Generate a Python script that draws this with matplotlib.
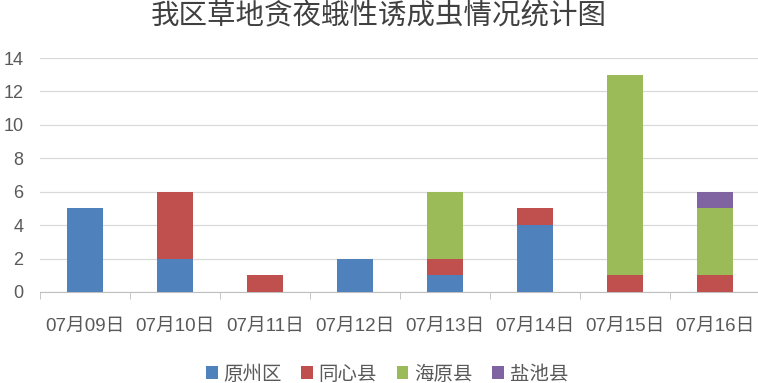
import numpy as np
import matplotlib
matplotlib.use("Agg")
import matplotlib.pyplot as plt

plt.rcParams['font.family'] = ['Noto Sans CJK SC', 'DejaVu Sans']

dates = ['07月09日', '07月10日', '07月11日', '07月12日',
         '07月13日', '07月14日', '07月15日', '07月16日']
yuanzhou = [5, 2, 0, 2, 1, 4, 0, 0]
tongxin = [0, 4, 1, 0, 1, 1, 1, 1]
haiyuan = [0, 0, 0, 0, 4, 0, 12, 4]
yanchi = [0, 0, 0, 0, 0, 0, 0, 1]

series = [('原州区', yuanzhou, '#4F81BD'),
          ('同心县', tongxin, '#C0504D'),
          ('海原县', haiyuan, '#9BBB59'),
          ('盐池县', yanchi, '#8064A2')]

fig = plt.figure(figsize=(7.58, 3.83), dpi=100)
ax = fig.add_axes([40 / 758, 1 - 292 / 383, 720 / 758, 234 / 383])

x = np.arange(len(dates))
bottom = np.zeros(len(dates))
for name, vals, color in series:
    vals = np.array(vals, dtype=float)
    ax.bar(x, vals, 0.41, bottom=bottom, color=color, label=name, zorder=3)
    bottom += vals

ax.set_xlim(-0.5, len(dates) - 0.5)
ax.set_ylim(0, 14)
ax.set_yticks(range(0, 15, 2))
ax.grid(axis='y', color='#D9D9D9', linewidth=0.9, zorder=0)

for s in ['top', 'right', 'left']:
    ax.spines[s].set_visible(False)
ax.spines['bottom'].set_color('#BFBFBF')

ax.set_xticks(x)
ax.set_xticklabels(dates)
ax.set_xticks(np.arange(-0.5, len(dates)), minor=True)
ax.tick_params(axis='x', which='major', length=0, pad=19, labelsize=13.5, labelcolor='#595959')
ax.tick_params(axis='x', which='minor', length=5, color='#BFBFBF')
ax.tick_params(axis='y', length=0, pad=12, labelsize=13, labelcolor='#595959')
for lbl in ax.get_yticklabels():
    lbl.set_family(['Liberation Sans', 'DejaVu Sans'])
for lbl in ax.get_xticklabels():
    lbl.set_family(['Liberation Sans', 'Noto Sans CJK SC'])

fig.suptitle('我区草地贪夜蛾性诱成虫情况统计图', fontsize=20.5, color='#404040', y=0.998)

ax.legend(loc='center', bbox_to_anchor=(387 / 758, 9 / 383), bbox_transform=fig.transFigure,
          ncol=4, frameon=False, fontsize=14, handlelength=0.6, handleheight=0.6,
          columnspacing=1.0, handletextpad=0.3, labelcolor='#595959')

fig.savefig('out.png', dpi=100)
